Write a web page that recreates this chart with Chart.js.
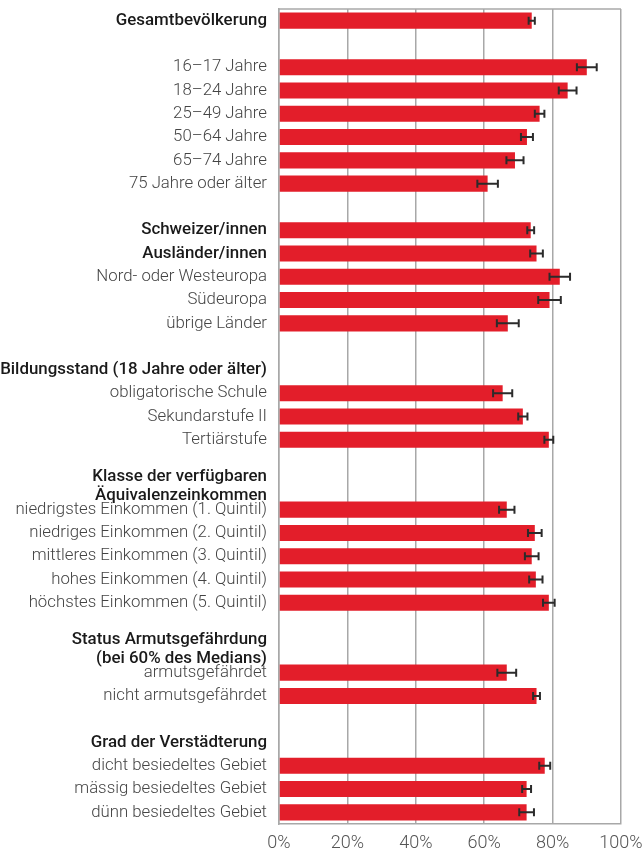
<!DOCTYPE html>
<html lang="de">
<head>
  <meta charset="UTF-8" />
  <title>Anteil nach Bevölkerungsgruppen</title>
  <style>
    html, body { margin: 0; padding: 0; background: #fff; }
    canvas { display: block; }
  </style>
</head>
<body>
  <canvas id="chart" width="644" height="852"></canvas>

  <script src="https://cdn.jsdelivr.net/npm/chart.js"></script>
  <script>
    // Kategorien (leere Einträge = Abstandszeilen)
    const categories = [
      'Gesamtbevölkerung', '',
      '16–17 Jahre', '18–24 Jahre', '25–49 Jahre', '50–64 Jahre', '65–74 Jahre', '75 Jahre oder älter', '',
      'Schweizer/innen', 'Ausländer/innen', 'Nord- oder Westeuropa', 'Südeuropa', 'übrige Länder', '',
      'Bildungsstand (18 Jahre oder älter)', 'obligatorische Schule', 'Sekundarstufe II', 'Tertiärstufe', '',
      ['Klasse der verfügbaren', 'Äquivalenzeinkommen'],
      'niedrigstes Einkommen (1. Quintil)', 'niedriges Einkommen (2. Quintil)', 'mittleres Einkommen (3. Quintil)',
      'hohes Einkommen (4. Quintil)', 'höchstes Einkommen (5. Quintil)', '',
      ['Status Armutsgefährdung', '(bei 60% des Medians)'],
      'armutsgefährdet', 'nicht armutsgefährdet', '',
      'Grad der Verstädterung', 'dicht besiedeltes Gebiet', 'mässig besiedeltes Gebiet', 'dünn besiedeltes Gebiet'
    ];

    // Anteile in %
    const values = [
      73.9, null,
      90.0, 84.4, 76.2, 72.5, 69.0, 61.0, null,
      73.6, 75.3, 82.1, 79.1, 66.9, null,
      null, 65.4, 71.3, 78.9, null,
      null,
      66.6, 74.8, 73.9, 75.1, 78.9, null,
      null,
      66.6, 75.3, null,
      null, 77.7, 72.4, 72.4
    ];

    // Vertrauensintervall (+/-)
    const errors = [
      0.9, null,
      2.9, 2.6, 1.4, 1.75, 2.5, 3.0, null,
      1.0, 1.85, 3.0, 3.3, 3.2, null,
      null, 2.8, 1.35, 1.3, null,
      null,
      2.25, 2.0, 2.0, 1.95, 1.7, null,
      null,
      2.75, 1.0, null,
      null, 1.6, 1.3, 2.15
    ];

    // Zeilen mit fetter Beschriftung
    const boldRows = [0, 9, 10, 15, 20, 27, 31];

    const xTicks = [0, 20, 40, 60, 80, 100];

    const gridColor = '#a8a8a8';

    const errorBars = {
      id: 'errorBars',
      beforeDatasetsDraw(chart) {
        // obere Rahmenlinie
        const a = chart.chartArea;
        const c = chart.ctx;
        c.save();
        c.strokeStyle = gridColor;
        c.lineWidth = 1.5;
        c.beginPath();
        c.moveTo(a.left, a.top);
        c.lineTo(a.right, a.top);
        c.stroke();
        c.restore();
      },
      afterDatasetsDraw(chart) {
        const meta = chart.getDatasetMeta(0);
        const x = chart.scales.x;
        const c = chart.ctx;
        c.save();
        c.strokeStyle = '#2b2b2b';
        c.lineWidth = 2;
        meta.data.forEach((bar, i) => {
          if (values[i] == null || errors[i] == null) return;
          const x0 = x.getPixelForValue(values[i] - errors[i]);
          const x1 = x.getPixelForValue(values[i] + errors[i]);
          const y = bar.y;
          c.beginPath();
          c.moveTo(x0, y); c.lineTo(x1, y);
          c.moveTo(x0, y - 4); c.lineTo(x0, y + 4);
          c.moveTo(x1, y - 4); c.lineTo(x1, y + 4);
          c.stroke();
        });
        c.restore();
      }
    };

    new Chart(document.getElementById('chart'), {
      type: 'bar',
      data: {
        labels: categories,
        datasets: [{
          data: values,
          backgroundColor: '#e31e2a',
          borderWidth: 0,
          barPercentage: 0.69,
          categoryPercentage: 1
        }]
      },
      options: {
        indexAxis: 'y',
        responsive: false,
        animation: false,
        layout: { padding: { top: 9, right: 23, bottom: 0, left: 0 } },
        plugins: {
          legend: { display: false },
          tooltip: { enabled: false }
        },
        scales: {
          x: {
            min: 0,
            max: 100,
            afterBuildTicks: (scale) => { scale.ticks = xTicks.map(v => ({ value: v })); },
            afterFit: (scale) => {
              scale.height = 28;
              scale.paddingLeft = 0;
              scale.paddingRight = 0;
            },
            grid: { color: gridColor, lineWidth: 1.5, drawTicks: false },
            border: { color: gridColor, width: 1.5 },
            ticks: {
              padding: 9,
              color: '#555',
              font: { family: 'Roboto', size: 18, weight: '300' },
              callback: (v) => v + '%'
            }
          },
          y: {
            afterFit: (scale) => {
              scale.width = 279;
              scale.paddingTop = 0;
              scale.paddingBottom = 0;
            },
            grid: { display: false, drawTicks: false },
            border: { color: gridColor, width: 1.5 },
            ticks: {
              padding: 12,
              autoSkip: false,
              color: (ctx) => boldRows.includes(ctx.index) ? '#1a1a1a' : '#444',
              font: (ctx) => boldRows.includes(ctx.index)
                ? { family: 'Roboto', size: 16.9, weight: '500', lineHeight: 1.16 }
                : { family: 'Roboto', size: 16.8, weight: '300', lineHeight: 1.2 }
            }
          }
        }
      },
      plugins: [errorBars]
    });
  </script>
</body>
</html>
